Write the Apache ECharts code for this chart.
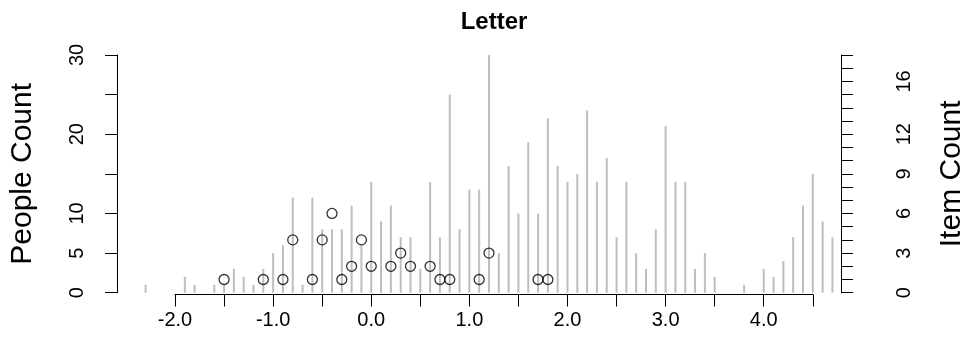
<!DOCTYPE html>
<html>
<head>
<meta charset="utf-8">
<script src="https://cdn.jsdelivr.net/npm/echarts@6/dist/echarts.min.js"></script>
<style>
  html, body { margin: 0; padding: 0; background: #fff; }
  #chart { width: 975px; height: 356px; }
</style>
</head>
<body>
<div id="chart"></div>
<script>
// people histogram (grey spikes) on the left axis
const peopleX = [-2.3, -1.9, -1.8, -1.6, -1.5, -1.4, -1.3, -1.2, -1.1, -1.0, -0.9, -0.8, -0.7, -0.6, -0.5, -0.4, -0.3, -0.2, -0.1, 0.0,
  0.1, 0.2, 0.3, 0.4, 0.5, 0.6, 0.7, 0.8, 0.9, 1.0, 1.1, 1.2, 1.3, 1.4, 1.5, 1.6, 1.7, 1.8, 1.9, 2.0,
  2.1, 2.2, 2.3, 2.4, 2.5, 2.6, 2.7, 2.8, 2.9, 3.0, 3.1, 3.2, 3.3, 3.4, 3.5, 3.8, 4.0, 4.1, 4.2, 4.3, 4.4, 4.5, 4.6, 4.7]
const peopleCount = [1, 2, 1, 1, 1, 3, 2, 1, 3, 5, 6, 12, 1, 12, 8, 8, 8, 11, 6, 14,
  9, 11, 7, 7, 3, 14, 7, 25, 8, 13, 13, 30, 5, 16, 10, 19, 10, 22, 16, 14,
  15, 23, 14, 17, 7, 14, 5, 3, 8, 21, 14, 14, 3, 5, 2, 1, 3, 2, 4, 7, 11, 15, 9, 7]

// item counts (open circles) on the right axis
const itemX = [-1.5, -1.1, -0.9, -0.8, -0.6, -0.5, -0.4, -0.3, -0.2, -0.1, 0.0, 0.2, 0.3, 0.4, 0.6, 0.7, 0.8, 1.1, 1.2, 1.7, 1.8]
const itemCount = [1, 1, 1, 4, 1, 4, 6, 1, 2, 4, 2, 2, 3, 2, 2, 1, 1, 1, 3, 1, 1]

// tick labels that R actually printed
const leftLabels = [0, 5, 10, 20, 30]
const rightLabels = [0, 3, 6, 9, 12, 16]
const xLabels = [-2, -1, 0, 1, 2, 3, 4]

const font = 'Liberation Sans, Arial, Helvetica, sans-serif'
const black = '#000'

const myChart = echarts.init(document.getElementById('chart'), null, { renderer: 'canvas' })

// type = 'h' spikes: one vertical segment from 0 up to the count
const renderSpike = (params, api) => {
  const p0 = api.coord([api.value(0), 0])
  const p1 = api.coord([api.value(0), api.value(1)])
  return {
    type: 'line',
    shape: { x1: p0[0], y1: p0[1], x2: p1[0], y2: p1[1] },
    style: { stroke: '#bebebe', lineWidth: 2 }
  }
}

const axisLine = { show: true, onZero: false, lineStyle: { color: black, width: 1 } }
const axisTick = { show: true, length: 12, lineStyle: { color: black, width: 1 } }

const option = {
  backgroundColor: '#fff',
  animation: false,
  title: {
    text: 'Letter',
    left: 489, top: 5, textAlign: 'center',
    textStyle: { fontFamily: font, fontWeight: 'bold', fontSize: 24, color: black }
  },
  grid: [
    // data grid: x from -2.0 to 4.5, spikes past the ends are not clipped
    { left: 175, right: 162.2, top: 55, bottom: 63.3 },
    // frame for the two y axes
    { left: 117, right: 115, top: 55, bottom: 63.3 }
  ],
  xAxis: [
    {
      type: 'value', gridIndex: 0, min: -2, max: 4.5, interval: 0.5, position: 'bottom', offset: 1.8,
      axisLine, axisTick,
      splitLine: { show: false },
      axisLabel: {
        margin: 16, fontFamily: font, fontSize: 20, color: black,
        formatter: v => xLabels.includes(v) ? v.toFixed(1) : ''
      }
    },
    { type: 'value', gridIndex: 1, min: 0, max: 1, show: false }
  ],
  yAxis: [
    { type: 'value', gridIndex: 0, min: 0, max: 30, show: false },
    { type: 'value', gridIndex: 0, min: 0, max: 18, show: false },
    {
      type: 'value', gridIndex: 1, position: 'left', min: 0, max: 30, interval: 5,
      name: 'People Count', nameLocation: 'middle', nameRotate: 90, nameGap: 79,
      nameTextStyle: { fontFamily: font, fontSize: 30, color: black },
      axisLine, axisTick,
      splitLine: { show: false },
      axisLabel: {
        rotate: 90, margin: 30, fontFamily: font, fontSize: 20, color: black,
        formatter: v => leftLabels.includes(v) ? String(v) : ''
      }
    },
    {
      type: 'value', gridIndex: 1, position: 'right', min: 0, max: 18, interval: 1,
      name: 'Item Count', nameLocation: 'middle', nameRotate: 90, nameGap: 96,
      nameTextStyle: { fontFamily: font, fontSize: 30, color: black },
      axisLine, axisTick,
      splitLine: { show: false },
      axisLabel: {
        rotate: 90, margin: 53, fontFamily: font, fontSize: 20, color: black,
        formatter: v => rightLabels.includes(v) ? String(v) : ''
      }
    }
  ],
  series: [
    {
      name: 'People', type: 'custom', xAxisIndex: 0, yAxisIndex: 0,
      renderItem: renderSpike, clip: false,
      data: peopleX.map((x, i) => [x, peopleCount[i]]),
      silent: true
    },
    {
      name: 'Items', type: 'scatter', xAxisIndex: 0, yAxisIndex: 1,
      symbol: 'circle', symbolSize: 10, clip: false,
      data: itemX.map((x, i) => [x, itemCount[i]]),
      itemStyle: { color: 'rgba(0,0,0,0)', borderColor: black, borderWidth: 1.3 },
      silent: true
    }
  ]
}

myChart.setOption(option)
window.addEventListener('resize', () => myChart.resize())
</script>
</body>
</html>
